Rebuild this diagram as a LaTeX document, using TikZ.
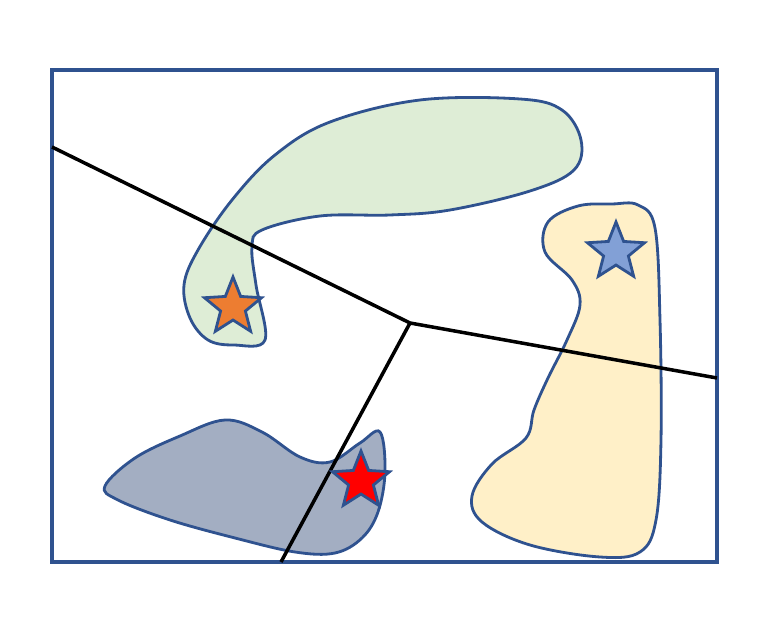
\documentclass[tikz,border=0pt]{standalone}
\usepackage{tikz}
\usetikzlibrary{shapes.geometric}
\definecolor{edgeblue}{RGB}{47, 82, 143}
\definecolor{greenfill}{RGB}{222, 237, 214}
\definecolor{yellowfill}{RGB}{255, 240, 200}
\definecolor{slatefill}{RGB}{163, 174, 194}
\definecolor{starorange}{RGB}{237, 125, 49}
\definecolor{starblue}{RGB}{130, 160, 214}
\usepackage{xcolor}

\begin{document}
\begin{tikzpicture}[x=0.02cm, y=-0.02cm,
    blob/.style={draw=edgeblue, line width=1.6pt},
    border/.style={black, line width=2pt},
    starnode/.style={shape=star, star points=5, star point ratio=2.3,
                     draw=edgeblue, line width=1.6pt, inner sep=0pt,
                     minimum size=1.2cm}]
    \useasboundingbox (0,0) rectangle (778,624);
    % regions
    \filldraw[blob, fill=greenfill] plot[smooth cycle, tension=0.6] coordinates {
        (265,340) (256,285) (252,247) (262,230) (320,216) (390,215)
        (450,210) (530,191) (574,170) (581,140) (562,110) (520,99)
        (420,100) (330,122) (275,155) (232,200) (198,250) (184,285)
        (190,318) (208,340) (234,345)};
    \filldraw[blob, fill=yellowfill] plot[smooth cycle, tension=0.6] coordinates {
        (578,206) (548,222) (545,252) (572,280) (580,305) (567,340)
        (548,378) (534,410) (526,438) (492,464) (472,496) (482,522)
        (530,545) (600,557) (640,552) (656,520) (661,440) (660,320)
        (655,228) (638,205) (612,204)};
    \filldraw[blob, fill=slatefill] plot[smooth cycle, tension=0.6] coordinates {
        (105,486) (135,458) (180,436) (225,420) (262,432) (300,457)
        (330,462) (360,443) (380,432) (385,472) (378,512) (362,538)
        (335,553) (295,552) (235,538) (170,520) (118,500)};
    % outer frame
    \draw[edgeblue, line width=2.2pt] (52,70) rectangle (717,562);
    % partition lines
    \coordinate (hub) at (410,323);
    \coordinate (west) at (52,147);
    \coordinate (east) at (717,378);
    \coordinate (south) at (281,562);
    \draw[border] (hub) -- (west);
    \draw[border] (hub) -- (east);
    \draw[border] (hub) -- (south);
    % seeds
    \node[starnode,
          fill=starorange] (seedA) at (233,307) {};
    \node[starnode,
          fill=starblue] (seedB) at (616,252) {};
    \node[starnode,
          fill=red] (seedC) at (361,481) {};
\end{tikzpicture}
\end{document}
